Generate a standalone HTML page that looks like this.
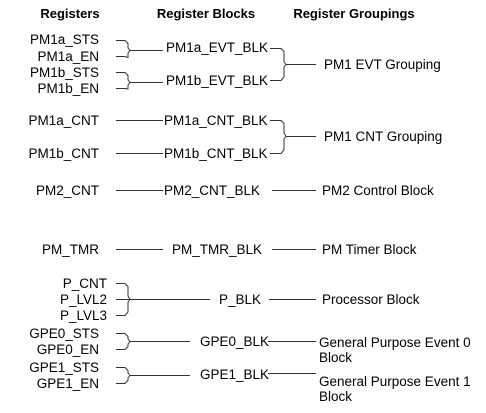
<!DOCTYPE html>
<html><head><meta charset="utf-8"><style>
html,body{margin:0;padding:0;background:#fff;}
svg{display:block;}
text{font-family:"Liberation Sans",Arial,sans-serif;font-size:13.5px;fill:#000;}
.h{font-weight:bold;font-size:13px;}
path,line{stroke:#333;stroke-width:1;fill:none;}
</style></head><body>
<svg width="486" height="413" viewBox="0 0 486 413">
<text class="h" x="70" y="18" text-anchor="middle">Registers</text>
<text class="h" x="206" y="18" text-anchor="middle">Register Blocks</text>
<text class="h" x="354" y="18" text-anchor="middle">Register Groupings</text>

<g text-anchor="end">
<text x="99" y="44">PM1a_STS</text>
<text x="99" y="61">PM1a_EN</text>
<text x="99" y="77">PM1b_STS</text>
<text x="99" y="93">PM1b_EN</text>
<text x="99" y="125">PM1a_CNT</text>
<text x="99" y="158">PM1b_CNT</text>
<text x="99" y="195">PM2_CNT</text>
<text x="99" y="254">PM_TMR</text>
<text x="107" y="288">P_CNT</text>
<text x="107" y="304">P_LVL2</text>
<text x="107" y="320">P_LVL3</text>
<text x="99" y="338">GPE0_STS</text>
<text x="99" y="354">GPE0_EN</text>
<text x="99" y="372">GPE1_STS</text>
<text x="99" y="388">GPE1_EN</text>
</g>

<text x="166" y="52">PM1a_EVT_BLK</text>
<text x="166" y="85">PM1b_EVT_BLK</text>
<text x="164" y="125">PM1a_CNT_BLK</text>
<text x="164" y="158">PM1b_CNT_BLK</text>
<text x="164" y="195">PM2_CNT_BLK</text>
<text x="172" y="254">PM_TMR_BLK</text>
<text x="219" y="304">P_BLK</text>
<text x="200" y="346">GPE0_BLK</text>
<text x="200" y="379">GPE1_BLK</text>

<text x="324" y="69">PM1 EVT Grouping</text>
<text x="324" y="141">PM1 CNT Grouping</text>
<text x="322" y="195">PM2 Control Block</text>
<text x="322" y="254">PM Timer Block</text>
<text x="322" y="304">Processor Block</text>
<text x="319" y="347">General Purpose Event 0</text>
<text x="319" y="362">Block</text>
<text x="319" y="386">General Purpose Event 1</text>
<text x="319" y="401">Block</text>

<path d="M116 40.5H125L128 43.5V48L130 50.5L128 53V57.5L125 56.5H116"/>
<line x1="130" y1="50.5" x2="163" y2="50.5"/>
<path d="M116 72.5H125L128 75.5V80L130 82.5L128 85V89L125 88.5H116"/>
<line x1="130" y1="82.5" x2="163" y2="82.5"/>
<line x1="116" y1="120.5" x2="163" y2="120.5"/>
<line x1="116" y1="153.5" x2="163" y2="153.5"/>
<line x1="116" y1="190.5" x2="163" y2="190.5"/>
<line x1="116" y1="249.5" x2="163" y2="249.5"/>
<path d="M116 283.5H125L128 286.5V296L130 299.5L128 302V312L125 315.5H116"/>
<line x1="116" y1="299.5" x2="210" y2="299.5"/>
<path d="M116 333.5H125L128 336.5V339L130 341.5L128 344V346.5L125 349.5H116"/>
<line x1="130" y1="341.5" x2="190" y2="341.5"/>
<path d="M116 367.5H125L128 370.5V373L130 375.5L128 378V380.5L125 383.5H116"/>
<line x1="130" y1="375.5" x2="190" y2="375.5"/>

<path d="M270 48.5H281L284 51.5V62L286 64.5L284 67V77L281 80.5H270"/>
<line x1="286" y1="64.5" x2="316" y2="64.5"/>
<path d="M270 120.5H281L284 123.5V133L286 136.5L284 139V150L281 153.5H270"/>
<line x1="286" y1="136.5" x2="316" y2="136.5"/>
<line x1="272" y1="190.5" x2="316" y2="190.5"/>
<line x1="272" y1="249.5" x2="316" y2="249.5"/>
<line x1="269" y1="299.5" x2="316" y2="299.5"/>
<line x1="268" y1="341.5" x2="316" y2="341.5"/>
<line x1="268" y1="373.5" x2="316" y2="373.5"/>
</svg>
</body></html>
